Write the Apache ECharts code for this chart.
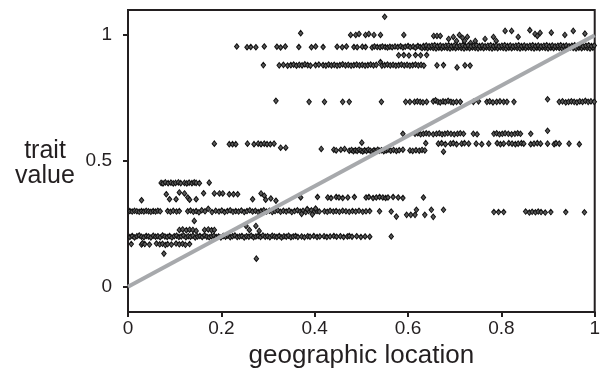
<!DOCTYPE html>
<html><head><meta charset="utf-8">
<script src="https://cdn.jsdelivr.net/npm/echarts@6/dist/echarts.min.js"></script>
<style>html,body{margin:0;padding:0;background:#fff}#c{width:603px;height:375px}</style>
</head><body><div id="c"></div>
<script>
const xTicks = [0, 0.2, 0.4, 0.6, 0.8, 1];
const yTicks = [0, 0.5, 1];
const lineX = [0, 1];
const lineY = [0, 1];

const ptsAbove = [[0.370,1.008],[0.477,1.001],[0.488,1.001],[0.495,1.005],[0.509,1.001],[0.516,1.005],[0.527,1.001],[0.541,1.001],[0.550,1.073],[0.591,1.001],[0.655,0.997],[0.662,0.997],[0.669,0.997],[0.687,0.985],[0.697,0.993],[0.704,0.977],[0.710,1.001],[0.717,0.989],[0.721,0.977],[0.727,0.993],[0.734,0.969],[0.744,0.977],[0.765,0.985],[0.783,0.993],[0.789,0.977],[0.808,1.017],[0.822,1.017],[0.836,0.993],[0.861,1.020],[0.872,1.005],[0.877,0.997],[0.883,1.009],[0.907,1.010],[0.936,1.001],[0.954,1.017],[0.979,1.006]];

const band95 = [[0.233,0.955],[0.255,0.952],[0.263,0.953],[0.274,0.952],[0.292,0.955],[0.319,0.954],[0.327,0.951],[0.337,0.955],[0.366,0.953],[0.393,0.952],[0.402,0.955],[0.418,0.953],[0.448,0.954],[0.459,0.952],[0.468,0.955],[0.484,0.953],[0.491,0.952],[0.502,0.954],
[0.509,0.953],[0.523,0.951],[0.528,0.955],[0.534,0.953],[0.540,0.952],[0.545,0.955],[0.551,0.953],[0.556,0.951],[0.561,0.954],[0.566,0.952],[0.572,0.955],[0.578,0.953],[0.584,0.956],[0.589,0.951],[0.594,0.954],[0.600,0.957],[0.605,0.952],[0.611,0.955],[0.616,0.950],[0.621,0.957],[0.626,0.953],
[0.630,0.949],[0.636,0.950],[0.642,0.948],[0.648,0.951],[0.654,0.949],[0.660,0.947],[0.666,0.950],[0.672,0.948],[0.678,0.951],[0.684,0.949],[0.690,0.947],[0.696,0.950],[0.702,0.948],[0.708,0.951],[0.714,0.949],[0.720,0.947],[0.726,0.950],[0.732,0.948],[0.738,0.951],[0.744,0.949],[0.750,0.947],[0.756,0.950],[0.762,0.948],[0.768,0.951],[0.774,0.949],[0.780,0.947],[0.786,0.950],[0.792,0.948],[0.798,0.951],[0.804,0.949],[0.810,0.947],[0.816,0.950],[0.822,0.948],[0.828,0.951],[0.834,0.949],[0.840,0.947],[0.846,0.950],[0.852,0.948],[0.858,0.951],[0.864,0.949],[0.870,0.947],[0.876,0.950],[0.882,0.948],[0.888,0.951],[0.894,0.949],[0.900,0.947],[0.906,0.950],[0.912,0.948],[0.918,0.951],[0.924,0.949],[0.930,0.947],[0.936,0.950],[0.942,0.948],[0.948,0.951],[0.954,0.949],[0.960,0.947],[0.966,0.950],[0.972,0.948],[0.978,0.951],[0.984,0.949],[0.990,0.947],[0.996,0.950],
[0.633,0.957],[0.639,0.959],[0.645,0.956],[0.651,0.958],[0.657,0.960],[0.663,0.957],[0.669,0.959],[0.675,0.956],[0.681,0.958],[0.687,0.960],[0.693,0.957],[0.699,0.959],[0.705,0.956],[0.711,0.958],[0.717,0.960],[0.723,0.957],[0.729,0.959],[0.735,0.956],[0.741,0.958],[0.747,0.960],[0.753,0.957],[0.759,0.959],[0.765,0.956],[0.771,0.958],[0.777,0.960],[0.783,0.957],[0.789,0.959],[0.795,0.956],[0.801,0.958],[0.807,0.960],[0.813,0.957],[0.819,0.959],[0.825,0.956],[0.831,0.958],[0.837,0.960],[0.843,0.957],[0.849,0.959],[0.855,0.956],[0.861,0.958],[0.867,0.960],[0.873,0.957],[0.879,0.959],[0.885,0.956],[0.891,0.958],[0.897,0.960],[0.903,0.957],[0.909,0.959],[0.915,0.956],[0.921,0.958],[0.927,0.960],[0.933,0.957],[0.939,0.959],[0.945,0.956],[0.951,0.958],[0.957,0.960],[0.963,0.957],[0.969,0.959],[0.975,0.956],[0.981,0.958],[0.987,0.960],[0.993,0.957],[0.999,0.959]];

const band92 = [[0.580,0.920],[0.591,0.921],[0.602,0.919],[0.616,0.921],[0.627,0.920],[0.640,0.921]];

const band88 = [[0.290,0.881],[0.324,0.880],[0.333,0.882],[0.342,0.879],[0.349,0.881],[0.355,0.883],[0.361,0.879],[0.367,0.882],[0.373,0.880],[0.379,0.884],[0.385,0.881],[0.391,0.879],[0.402,0.881],[0.409,0.883],
[0.418,0.881],[0.424,0.879],[0.430,0.883],[0.436,0.880],[0.442,0.882],[0.448,0.879],[0.454,0.881],[0.460,0.884],[0.466,0.880],[0.472,0.882],[0.478,0.879],[0.484,0.881],[0.490,0.883],[0.496,0.880],[0.502,0.882],[0.508,0.879],[0.514,0.881],[0.520,0.883],[0.526,0.880],[0.532,0.882],[0.541,0.893],[0.544,0.879],[0.550,0.881],[0.556,0.883],[0.562,0.880],[0.568,0.882],[0.574,0.879],[0.580,0.881],[0.586,0.883],[0.592,0.880],[0.598,0.882],[0.604,0.879],[0.610,0.881],[0.616,0.883],[0.622,0.880],[0.628,0.882],[0.634,0.879],
[0.662,0.880],[0.676,0.881],[0.705,0.872],[0.722,0.880],[0.733,0.879]];

const band74 = [[0.317,0.739],[0.388,0.735],[0.421,0.735],[0.460,0.735],[0.474,0.735],[0.543,0.735],[0.595,0.735],[0.604,0.735],[0.614,0.735],[0.620,0.737],[0.626,0.735],[0.632,0.733],[0.640,0.735],[0.654,0.737],[0.659,0.741],[0.664,0.735],[0.669,0.733],[0.675,0.737],[0.680,0.735],[0.686,0.739],[0.692,0.735],[0.697,0.733],[0.704,0.735],[0.712,0.735],[0.740,0.735],[0.751,0.737],[0.769,0.735],[0.775,0.737],[0.782,0.733],[0.790,0.735],[0.797,0.737],[0.805,0.735],[0.812,0.735],[0.827,0.735],[0.899,0.745],[0.924,0.735],[0.931,0.737],[0.938,0.733],[0.944,0.735],[0.950,0.737],[0.956,0.735],[0.962,0.733],[0.968,0.737],[0.974,0.735],[0.980,0.739],[0.986,0.735],[0.992,0.737],[0.999,0.735]];

const band61 = [[0.589,0.608],[0.615,0.608],[0.621,0.610],[0.627,0.606],[0.633,0.608],[0.639,0.610],[0.645,0.608],[0.654,0.606],[0.661,0.608],[0.667,0.610],[0.673,0.606],[0.679,0.608],[0.685,0.610],[0.692,0.608],[0.699,0.606],[0.706,0.608],[0.712,0.610],[0.719,0.608],[0.740,0.608],[0.748,0.606],[0.784,0.608],[0.790,0.610],[0.796,0.606],[0.802,0.608],[0.808,0.610],[0.815,0.608],[0.822,0.606],[0.829,0.608],[0.835,0.610],[0.841,0.608],[0.863,0.608],[0.899,0.620]];

const band57 = [[0.185,0.569],[0.217,0.567],[0.224,0.567],[0.231,0.567],[0.256,0.569],[0.270,0.567],[0.279,0.569],[0.285,0.567],[0.292,0.569],[0.298,0.567],[0.305,0.567],[0.313,0.569],[0.327,0.553],[0.338,0.553],
[0.638,0.571],[0.665,0.569],[0.672,0.571],[0.680,0.567],[0.691,0.569],[0.697,0.571],[0.704,0.567],[0.715,0.569],[0.721,0.571],[0.730,0.569],[0.746,0.569],[0.758,0.567],[0.773,0.569],[0.791,0.571],[0.798,0.567],[0.805,0.569],[0.816,0.571],[0.823,0.569],[0.830,0.567],[0.836,0.569],[0.843,0.571],[0.848,0.569],[0.863,0.567],[0.870,0.569],[0.877,0.571],[0.884,0.569],[0.899,0.569],[0.913,0.567],[0.917,0.571],[0.924,0.569],[0.945,0.569],[0.967,0.567]];

const band54 = [[0.414,0.548],[0.441,0.545],[0.446,0.542],[0.456,0.545],[0.464,0.548],[0.474,0.541],[0.479,0.544],[0.483,0.539],[0.487,0.543],[0.491,0.540],[0.495,0.545],[0.501,0.573],[0.499,0.541],[0.503,0.538],[0.507,0.543],[0.511,0.540],[0.515,0.545],[0.519,0.541],[0.523,0.538],[0.527,0.543],[0.531,0.540],[0.535,0.545],[0.539,0.541],[0.543,0.543],[0.548,0.539],[0.553,0.542],[0.557,0.545],[0.563,0.541],[0.569,0.544],[0.575,0.540],[0.581,0.543],[0.589,0.545],[0.604,0.542],[0.610,0.540],[0.617,0.543],[0.624,0.541],[0.630,0.544],[0.636,0.542],[0.676,0.537]];

const band41 = [[0.071,0.413],[0.075,0.411],[0.080,0.415],[0.086,0.412],[0.092,0.414],[0.097,0.411],[0.102,0.413],[0.108,0.415],[0.113,0.412],[0.121,0.413],[0.126,0.411],[0.131,0.414],[0.137,0.412],[0.142,0.415],[0.146,0.413],[0.153,0.412],[0.174,0.414]];

const band36 = [[0.029,0.344],[0.082,0.368],[0.089,0.348],[0.103,0.348],[0.110,0.375],[0.121,0.371],[0.128,0.355],[0.132,0.346],[0.146,0.348],[0.162,0.372],[0.185,0.371],[0.196,0.371],[0.203,0.371],[0.217,0.368],[0.226,0.368],[0.235,0.368],[0.267,0.348],[0.285,0.371],[0.292,0.362],[0.295,0.346],[0.306,0.351],[0.317,0.342],
[0.370,0.355],[0.406,0.357],[0.428,0.355],[0.435,0.353],[0.446,0.357],[0.452,0.355],[0.460,0.353],[0.471,0.355],[0.485,0.357],[0.510,0.355],[0.516,0.357],[0.525,0.353],[0.532,0.355],[0.539,0.357],[0.546,0.355],[0.552,0.353],[0.557,0.355],[0.568,0.357],[0.579,0.355],[0.589,0.353],[0.633,0.355]];

const band30 = [[0.004,0.301],[0.009,0.299],[0.014,0.302],[0.019,0.300],[0.024,0.298],[0.029,0.301],[0.034,0.299],[0.039,0.302],[0.044,0.300],[0.049,0.298],[0.054,0.301],[0.059,0.299],[0.064,0.302],[0.069,0.300],
[0.085,0.301],[0.091,0.298],[0.097,0.302],[0.104,0.299],[0.110,0.301],
[0.128,0.300],[0.134,0.303],[0.140,0.298],[0.146,0.301],[0.152,0.296],[0.158,0.304],[0.165,0.300],[0.172,0.310],[0.180,0.297],[0.188,0.302],[0.195,0.299],[0.201,0.303],[0.207,0.297],[0.213,0.301],[0.219,0.304],[0.225,0.298],[0.231,0.301],[0.237,0.299],[0.243,0.303],[0.249,0.297],[0.255,0.301],[0.261,0.304],[0.267,0.299],[0.273,0.302],[0.279,0.297],[0.285,0.301],[0.291,0.304],[0.297,0.299],[0.303,0.302],[0.309,0.297],[0.315,0.301],[0.321,0.304],[0.327,0.298],[0.333,0.302],[0.339,0.299],[0.345,0.303],[0.351,0.297],[0.357,0.301],[0.363,0.304],
[0.369,0.299],[0.375,0.302],[0.381,0.297],[0.387,0.301],[0.393,0.304],[0.399,0.298],[0.405,0.301],[0.410,0.299],[0.372,0.290],[0.384,0.309],[0.395,0.288],[0.402,0.311],
[0.421,0.300],[0.427,0.298],[0.433,0.302],[0.440,0.299],[0.446,0.301],[0.453,0.298],[0.460,0.302],
[0.467,0.300],[0.474,0.298],[0.481,0.301],[0.488,0.299],[0.495,0.302],[0.503,0.298],[0.510,0.300],[0.518,0.301],
[0.539,0.300],[0.564,0.299],[0.575,0.279],[0.597,0.286],[0.606,0.286],[0.615,0.286],[0.618,0.306],[0.636,0.286],[0.650,0.306],[0.654,0.278],[0.676,0.306],
[0.784,0.297],[0.794,0.297],[0.805,0.297],[0.852,0.299],[0.860,0.295],[0.866,0.298],[0.873,0.296],[0.879,0.299],[0.885,0.297],[0.894,0.295],[0.906,0.297],[0.938,0.297],[0.978,0.296],
[0.142,0.262],[0.253,0.242],[0.274,0.242]];

const band22 = [[0.110,0.226],[0.117,0.228],[0.125,0.225],[0.132,0.227],[0.139,0.226],[0.146,0.222],[0.164,0.226],[0.172,0.228],[0.179,0.225],[0.185,0.226],[0.260,0.226],[0.281,0.222]];

const band20 = [[0.004,0.198],[0.009,0.202],[0.014,0.196],[0.019,0.201],[0.024,0.204],[0.029,0.199],[0.034,0.197],[0.039,0.202],[0.044,0.200],[0.049,0.196],[0.054,0.203],[0.059,0.199],[0.064,0.201],[0.069,0.197],[0.074,0.204],[0.079,0.200],[0.084,0.198],[0.089,0.202],[0.094,0.196],[0.099,0.201],[0.104,0.203],[0.109,0.198],[0.114,0.200],[0.119,0.204],[0.124,0.197],[0.129,0.201],[0.134,0.199],[0.139,0.203],[0.144,0.196],[0.149,0.200],[0.154,0.202],[0.159,0.198],[0.164,0.204],[0.169,0.199],[0.174,0.197],[0.179,0.201],[0.184,0.203],[0.189,0.198],[0.194,0.200],[0.199,0.196],[0.204,0.202],[0.209,0.199],[0.214,0.203],[0.219,0.197],[0.224,0.201],[0.229,0.204],[0.234,0.198],[0.239,0.200],[0.244,0.202],[0.249,0.196],[0.254,0.201],[0.259,0.199],[0.264,0.203],[0.269,0.197],[0.274,0.200],[0.279,0.202],[0.284,0.198],[0.289,0.204],[0.294,0.199],[0.299,0.201],[0.304,0.197],[0.309,0.203],[0.314,0.200],[0.319,0.198],[0.324,0.202],[0.329,0.196],[0.334,0.201],[0.339,0.199],[0.344,0.203],[0.349,0.197],[0.354,0.200],[0.359,0.202],[0.364,0.198],
[0.372,0.200],[0.378,0.197],[0.385,0.201],[0.390,0.199],[0.398,0.202],[0.405,0.198],[0.411,0.200],[0.420,0.201],[0.426,0.198],[0.433,0.200],[0.441,0.202],[0.447,0.199],[0.455,0.201],[0.462,0.198],[0.470,0.200],[0.474,0.202],[0.480,0.199],[0.490,0.201],[0.499,0.198],[0.508,0.200],[0.518,0.199],[0.564,0.200]];

const band17 = [[0.007,0.170],[0.029,0.168],[0.031,0.173],[0.036,0.170],[0.046,0.168],[0.061,0.172],[0.068,0.169],[0.074,0.171],[0.080,0.166],[0.085,0.170],[0.093,0.168],[0.103,0.172],[0.110,0.169],[0.117,0.171],[0.123,0.167],[0.132,0.170],[0.077,0.132],[0.275,0.112]];

const allPoints = [].concat(ptsAbove, band95, band92, band88, band74, band61, band57, band54, band41, band36, band30, band22, band20, band17);

const ink = '#231f20';
const font = 'Liberation Sans, Arial, Helvetica, sans-serif';
const chart = echarts.init(document.getElementById('c'), null, {renderer: 'canvas'});
chart.setOption({
  animation: false,
  backgroundColor: '#fff',
  grid: {left: 128, right: 6, top: 10, bottom: 63, show: true, borderColor: ink, borderWidth: 2},
  xAxis: {
    type: 'value', min: 0, max: 1, interval: 0.2,
    axisLine: {onZero: false, lineStyle: {color: ink, width: 2}},
    axisTick: {length: 5, lineStyle: {color: ink, width: 2}},
    axisLabel: {fontSize: 19, color: ink, fontFamily: font, margin: 7},
    splitLine: {show: false},
    name: 'geographic location', nameLocation: 'middle', nameGap: 30,
    nameTextStyle: {fontSize: 26, color: ink, fontFamily: font}
  },
  yAxis: {
    type: 'value', min: -0.1, max: 1.1,
    axisLine: {onZero: false, lineStyle: {color: ink, width: 2}},
    axisTick: {length: 5, customValues: yTicks, lineStyle: {color: ink, width: 2}},
    axisLabel: {customValues: yTicks, fontSize: 19, color: ink, fontFamily: font, margin: 16},
    splitLine: {show: false}
  },
  graphic: [{
    type: 'text', x: 45, y: 164,
    style: {text: 'trait\nvalue', fontSize: 25, fill: ink, fontFamily: font, align: 'center', verticalAlign: 'middle', lineHeight: 25}
  }],
  series: [
    {
      type: 'scatter', data: allPoints, symbol: 'diamond', symbolSize: [4.5, 5.5],
      itemStyle: {color: '#5a5a5a', borderColor: '#111111', borderWidth: 1, opacity: 1},
      z: 2, silent: true
    },
    {
      type: 'line', data: lineX.map((x, i) => [x, lineY[i]]), showSymbol: false,
      lineStyle: {color: '#a7a9ac', width: 4}, z: 3, silent: true
    }
  ]
});
</script></body></html>
